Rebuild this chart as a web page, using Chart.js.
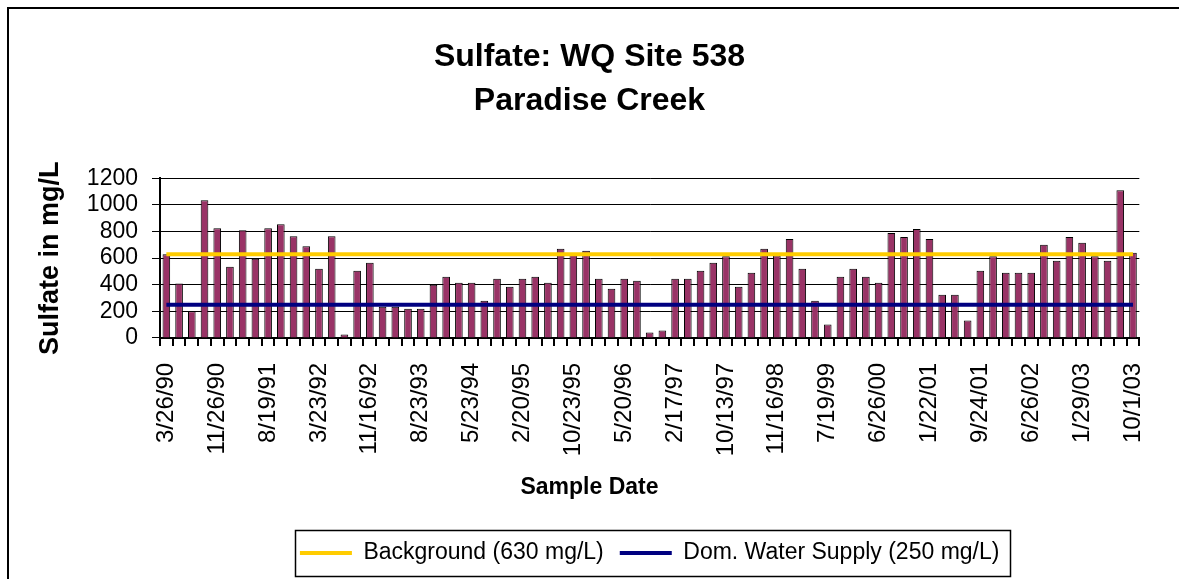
<!DOCTYPE html>
<html>
<head>
<meta charset="utf-8">
<script src="https://cdn.jsdelivr.net/npm/chart.js@4.4.0/dist/chart.umd.min.js"></script>
<style>
html, body { margin: 0; padding: 0; background: #fff; }
canvas { display: block; }
</style>
</head>
<body>
<canvas id="sulfateChart" width="1179" height="579"></canvas>
<script>
// shown dates, one every 4 samples
var tickLabels = ['3/26/90', '11/26/90', '8/19/91', '3/23/92', '11/16/92', '8/23/93', '5/23/94',
    '2/20/95', '10/23/95', '5/20/96', '2/17/97', '10/13/97', '11/16/98', '7/19/99', '6/26/00',
    '1/22/01', '9/24/01', '6/26/02', '1/29/03', '10/1/03'];
var labelEvery = 4;

// sulfate in mg/L, one per sample
var sulfate = [630, 410, 200, 1035, 825, 535, 810, 595, 825, 855,
    765, 690, 520, 765, 25, 505, 565, 235, 235, 220,
    220, 400, 460, 415, 415, 280, 445, 385, 445, 460,
    415, 670, 625, 655, 445, 370, 445, 430, 40, 55,
    445, 445, 505, 565, 615, 385, 490, 670, 620, 745,
    520, 280, 100, 460, 520, 460, 415, 790, 760, 820,
    745, 325, 325, 130, 505, 615, 490, 490, 490, 700,
    580, 760, 715, 615, 580, 1110, 640];

var backgroundLevel = 630;
var domesticLevel = 250;

var categories = sulfate.map(function (v, i) {
    return i % labelEvery === 0 ? tickLabels[i / labelEvery] : '';
});

Chart.defaults.font.family = '"Liberation Sans", Arial, sans-serif';
Chart.defaults.color = '#000';

var framePlugin = {
    id: 'frame',
    beforeDraw: function (chart) {
        var c = chart.ctx;
        c.save();
        c.fillStyle = '#fff';
        c.fillRect(0, 0, chart.width, chart.height);
        c.strokeStyle = '#000';
        c.lineWidth = 2;
        c.strokeRect(8, 8, chart.width, chart.height);
        c.restore();
    },
    afterDraw: function (chart) {
        // Excel-style border round the legend
        var boxes = chart.legend.legendHitBoxes;
        if (!boxes || !boxes.length) return;
        var first = boxes[0], last = boxes[boxes.length - 1];
        var left = first.left - 5;
        var right = last.left + last.width + 10;
        var cy = first.top + first.height / 2;
        var c = chart.ctx;
        c.save();
        c.strokeStyle = '#000';
        c.lineWidth = 1.5;
        c.strokeRect(Math.round(left) + 0.5, Math.round(cy - 23) + 0.5, Math.round(right - left), 46);
        c.restore();
    }
};

var ctx = document.getElementById('sulfateChart').getContext('2d');
var chart = new Chart(ctx, {
    data: {
        labels: categories,
        datasets: [{
            type: 'line',
            label: 'Background (630 mg/L)',
            data: categories.map(function () { return backgroundLevel; }),
            borderColor: '#FFCC00',
            backgroundColor: '#FFCC00',
            borderWidth: 4,
            pointRadius: 0,
            fill: false,
            order: 1
        }, {
            type: 'line',
            label: 'Dom. Water Supply (250 mg/L)',
            data: categories.map(function () { return domesticLevel; }),
            borderColor: '#000080',
            backgroundColor: '#000080',
            borderWidth: 4,
            pointRadius: 0,
            fill: false,
            order: 2
        }, {
            type: 'bar',
            label: 'Sulfate',
            data: sulfate,
            backgroundColor: '#993366',
            borderColor: '#000',
            borderWidth: 1,
            barPercentage: 0.6,
            categoryPercentage: 1.0,
            order: 3
        }]
    },
    options: {
        responsive: false,
        animation: false,
        events: [],
        layout: { padding: { left: 0, right: 0, top: 0, bottom: 4.5 } },
        scales: {
            x: {
                type: 'category',
                offset: true,
                grid: { drawOnChartArea: false, color: '#000', lineWidth: 2, tickLength: 8, offset: true },
                border: { color: '#000', width: 2 },
                ticks: { autoSkip: false, maxRotation: 90, minRotation: 90, padding: 17, font: { size: 24 } },
                afterFit: function (scale) { scale.height = 133; }
            },
            y: {
                min: 0,
                max: 1200,
                ticks: {
                    stepSize: 200,
                    autoSkip: false,
                    padding: 14,
                    font: { size: 23 },
                    format: { useGrouping: false }
                },
                grid: { color: '#000', lineWidth: 1, tickLength: 8 },
                border: { color: '#000', width: 2 },
                title: {
                    display: true,
                    text: 'Sulfate in mg/L',
                    font: { size: 27, weight: 'bold' },
                    padding: { top: 34, bottom: 0 }
                },
                afterFit: function (scale) { scale.width = 160; }
            },
            // empty strip on the right, keeps the plot off the frame edge
            rightGap: {
                position: 'right',
                display: true,
                grid: { display: false },
                border: { display: false },
                ticks: { display: false },
                afterFit: function (scale) { scale.width = 35; }
            }
        },
        plugins: {
            title: {
                display: true,
                text: ['Sulfate: WQ Site 538', 'Paradise Creek'],
                font: { size: 32, weight: 'bold', lineHeight: 1.35 },
                padding: { top: 36, bottom: 56 }
            },
            subtitle: {
                display: true,
                position: 'bottom',
                weight: 500,
                text: 'Sample Date',
                font: { size: 23, weight: 'bold' },
                padding: { top: 3, bottom: 24 }
            },
            legend: {
                position: 'bottom',
                fullSize: false,
                labels: {
                    usePointStyle: true,
                    pointStyle: 'line',
                    pointStyleWidth: 52,
                    padding: 16,
                    font: { size: 23 },
                    filter: function (item) { return item.text !== 'Sulfate'; }
                }
            },
            tooltip: { enabled: false }
        }
    },
    plugins: [framePlugin]
});
</script>
</body>
</html>
